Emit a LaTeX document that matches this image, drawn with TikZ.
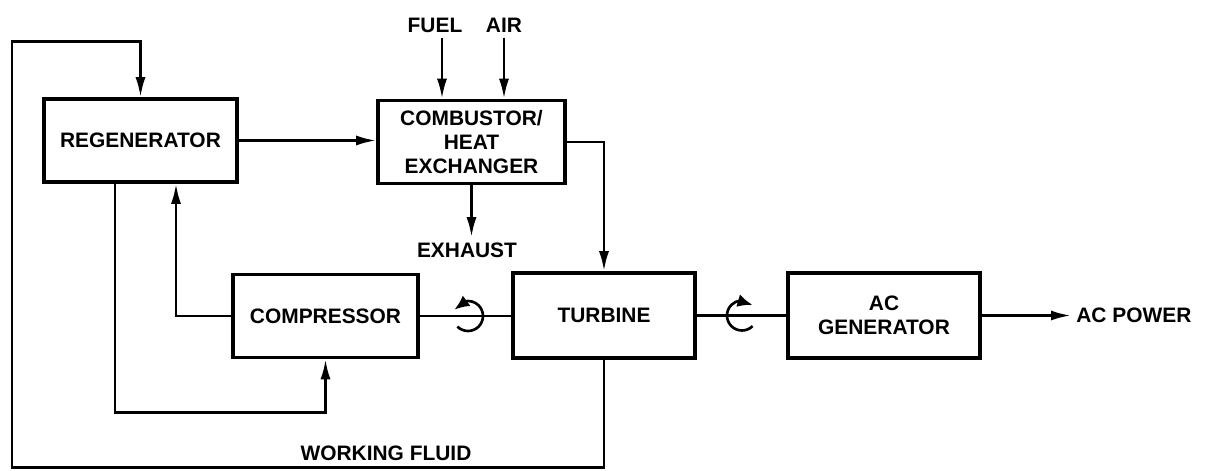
\documentclass[tikz,border=0pt]{standalone}
\usepackage{fontspec}
\setmainfont{Liberation Sans}
\usetikzlibrary{arrows.meta,bending,calc}

\tikzset{
  unitbox/.style={draw,line width=2pt,minimum width=37.4mm,minimum height=16.6mm,
    inner sep=0pt,align=center,font=\bfseries\fontsize{11.9}{13.6}\selectfont},
  tag/.style={inner sep=1mm,align=center,font=\bfseries\fontsize{11.9}{13.6}\selectfont},
  pipe/.style={line width=1.5pt},
  flow/.style={line width=1.5pt,-{Latex[length=4mm,width=2mm]}},
  spin/.style={line width=1.5pt,-{Latex[length=3mm,width=2.6mm,flex]}}
}

\begin{document}
\begin{tikzpicture}[x=0.2mm,y=0.2mm]
\useasboundingbox (0,0) rectangle (1209,471);

\node[unitbox,minimum width=38.6mm] (regen) at (140.5,330.5) {REGENERATOR};
\node[unitbox] (comb) at (471.5,329) {COMBUSTOR/\\HEAT\\EXCHANGER};
\node[unitbox,minimum width=37mm] (compr) at (325.5,155) {COMPRESSOR};
\node[unitbox,minimum width=36.4mm,minimum height=17mm] (turb) at (604,155.5) {TURBINE};
\node[unitbox,minimum width=38.4mm,minimum height=17mm] (gen) at (884,155.5) {AC\\GENERATOR};

\node[tag] (fuel) at (435,446) {FUEL};
\node[tag] (air) at (504,446) {AIR};
\node[tag] (exh) at (467,221) {EXHAUST};
\node[tag] (wf) at (386,18) {WORKING FLUID};
\node[tag,anchor=west] (power) at (1071,155.5) {AC POWER};

\coordinate (shaftA) at (468,155);
\coordinate (shaftB) at (742,155.5);

% inputs and outputs of the combustor
\draw[flow] ([xshift=1.4mm]fuel.south) -- ([xshift=1.4mm]fuel.south |- comb.north);
\draw[flow] (air.south) -- (air.south |- comb.north);
\draw[flow] (comb.south) -- (comb.south |- exh.north);
\draw[flow] (regen.east) -- (regen.east -| comb.west);
\draw[flow] (comb.east) -| (turb.north);

% working fluid loops
\draw[flow] (turb.south) -- ++(0,-108) -- ++(-592,0) -- ++(0,426) -| (regen.north);
\draw[flow] ($(regen.south)+(-25.5,0)$) |- ($(compr.south)+(0,-53)$) -- (compr.south);
\draw[flow] (compr.west) -| ($(regen.south)+(35.5,0)$);

% shafts
\draw[pipe] (compr.east) -- (compr.east -| turb.west);
\draw[pipe] (turb.east) -- (turb.east -| gen.west);
\draw[spin] ($(shaftA)+(-135:15)$) arc[start angle=-135,end angle=155,radius=15];
\draw[spin] ($(shaftB)+(-45:15)$) arc[start angle=-45,end angle=-315,radius=15];

\draw[flow] (gen.east) -- (power.west);

\end{tikzpicture}
\end{document}
